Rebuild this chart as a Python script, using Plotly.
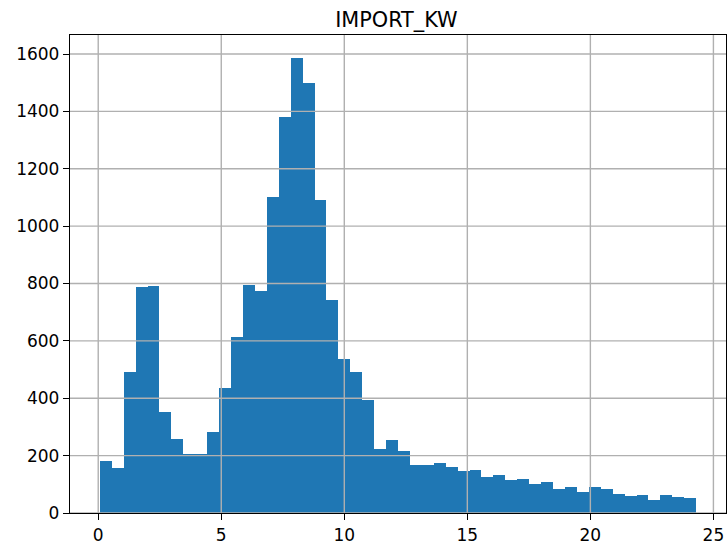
import numpy as np
import plotly.graph_objects as go

title = "IMPORT_KW"
bin_min = 0.065
bin_max = 24.3
counts = [181, 156, 493, 787, 791, 352, 258, 205, 205, 281,
          435, 614, 795, 773, 1101, 1380, 1587, 1499, 1092, 744,
          537, 493, 393, 222, 253, 217, 169, 168, 173, 160,
          145, 150, 124, 132, 114, 118, 100, 109, 82, 90,
          73, 90, 82, 65, 59, 64, 45, 64, 56, 51]
x_ticks = [0, 5, 10, 15, 20, 25]
y_ticks = [0, 200, 400, 600, 800, 1000, 1200, 1400, 1600]

nb = len(counts)
edges = np.linspace(bin_min, bin_max, nb + 1)
centers = (edges[:-1] + edges[1:]) / 2
width = edges[1] - edges[0]

span = bin_max - bin_min
xr = [bin_min - 0.05 * span, bin_max + 0.05 * span]
yr = [0, max(counts) * 1.05]

fig = go.Figure()
fig.add_trace(go.Bar(x=centers, y=counts, width=width,
                     marker=dict(color="#1f77b4", line=dict(width=0)),
                     showlegend=False, hoverinfo="skip"))

# grid lines drawn above bars (matplotlib style)
gx, gy = [], []
for t in x_ticks:
    gx += [t, t, None]
    gy += [yr[0], yr[1], None]
for t in y_ticks:
    gx += [xr[0], xr[1], None]
    gy += [t, t, None]
fig.add_trace(go.Scatter(x=gx, y=gy, mode="lines",
                         line=dict(color="#b0b0b0", width=1.4),
                         showlegend=False, hoverinfo="skip", cliponaxis=True))

axis_common = dict(showline=True, linecolor="black", linewidth=1.4, mirror=True,
                   ticks="outside", ticklen=6, tickwidth=1.4, tickcolor="black",
                   showgrid=False, zeroline=False, layer="above traces",
                   tickfont=dict(family="DejaVu Sans", size=17, color="black"))

fig.update_layout(
    width=728, height=546,
    margin=dict(l=70, r=1, t=35, b=31),
    paper_bgcolor="white", plot_bgcolor="white",
    bargap=0,
    title=dict(text=title, x=0.5445, xanchor="center", yref="container",
               y=1 - 27 / 546, yanchor="bottom",
               font=dict(family="DejaVu Sans", size=20.8, color="black")),
    xaxis=dict(range=xr, tickvals=x_ticks, ticktext=[str(t) for t in x_ticks], **axis_common),
    yaxis=dict(range=yr, tickvals=y_ticks, ticktext=[str(t) for t in y_ticks], **axis_common),
)

fig.write_html("out.html")
